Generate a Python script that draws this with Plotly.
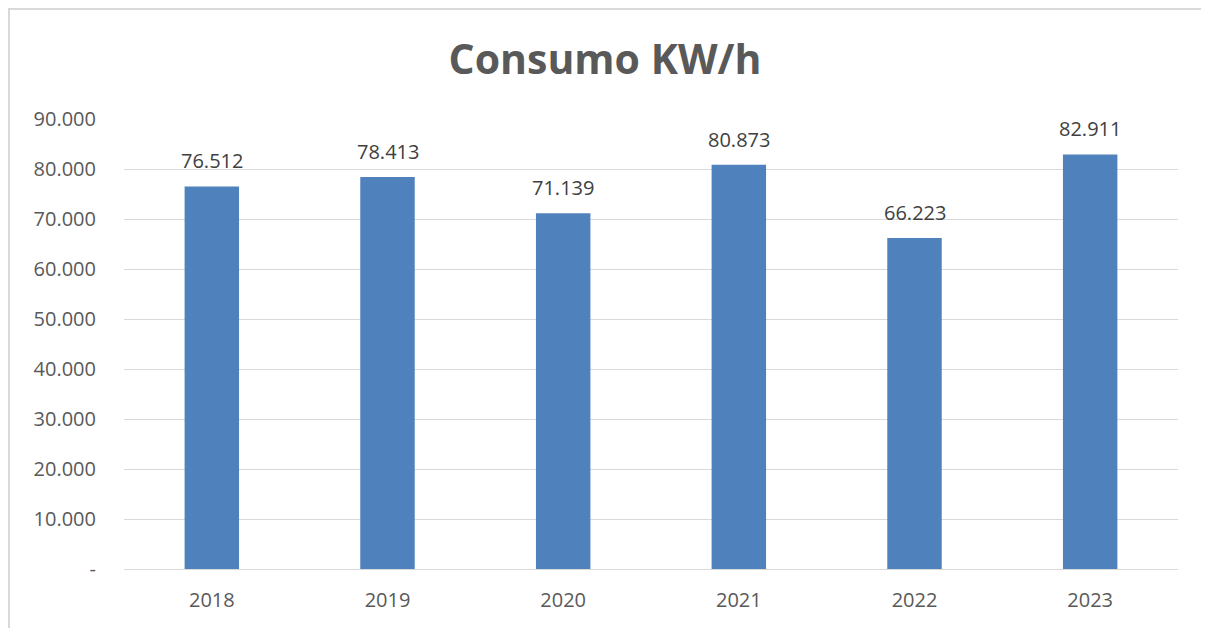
import plotly.graph_objects as go

years = ["2018", "2019", "2020", "2021", "2022", "2023"]
consumo = [76512, 78413, 71139, 80873, 66223, 82911]
tick_vals = [0, 10000, 20000, 30000, 40000, 50000, 60000, 70000, 80000, 90000]
tick_text = ["-", "10.000", "20.000", "30.000", "40.000", "50.000", "60.000", "70.000", "80.000", "90.000"]

W, H = 1201, 620          # page body has an 8px margin
L, R, T, B = 116, 31, 111, 59
pw, ph = W - L - R, H - T - B

fig = go.Figure(go.Bar(
    x=years, y=consumo,
    marker=dict(color="#4F81BD", line=dict(width=0)),
    cliponaxis=False,
))

# data labels (category axis: annotations are placed by category index)
for i, v in enumerate(consumo):
    fig.add_annotation(x=i, y=v, text=f"{v:,}".replace(",", "."),
                       showarrow=False, yanchor="bottom", yshift=10,
                       font=dict(family="Open Sans", size=20, color="#404040"))

fig.update_layout(
    width=W, height=H,
    margin=dict(l=L, r=R, t=T, b=B),
    paper_bgcolor="white", plot_bgcolor="white",
    separators=",.",
    bargap=0.69,
    showlegend=False,
    title=dict(text="<b>Consumo KW/h</b>", x=(597) / W, xanchor="center",
               y=1 - 52 / H, yanchor="middle",
               font=dict(family="Open Sans", size=41, color="#595959")),
    font=dict(family="Open Sans", size=20, color="#595959"),
)
fig.update_yaxes(range=[0, 90000], tickvals=tick_vals, ticktext=tick_text,
                 showgrid=True, gridcolor="#D9D9D9", gridwidth=1,
                 zeroline=True, zerolinecolor="#D9D9D9", zerolinewidth=1,
                 showline=False, ticks="", ticklabelstandoff=27,
                 tickfont=dict(family="Open Sans", size=20, color="#595959"))
fig.update_xaxes(type="category", range=[-0.5, len(years) - 0.5],
                 showgrid=False, showline=False, ticks="", ticklabelstandoff=17,
                 tickfont=dict(family="Open Sans", size=20, color="#595959"))

fig.add_shape(type="rect", xref="paper", yref="paper",
              x0=(1 - L) / pw, x1=(1196 - L) / pw,
              y0=-0.3, y1=(H - B - 1) / ph,
              line=dict(color="#D9D9D9", width=2), fillcolor="rgba(0,0,0,0)", layer="below")

fig.write_html("out.html")
